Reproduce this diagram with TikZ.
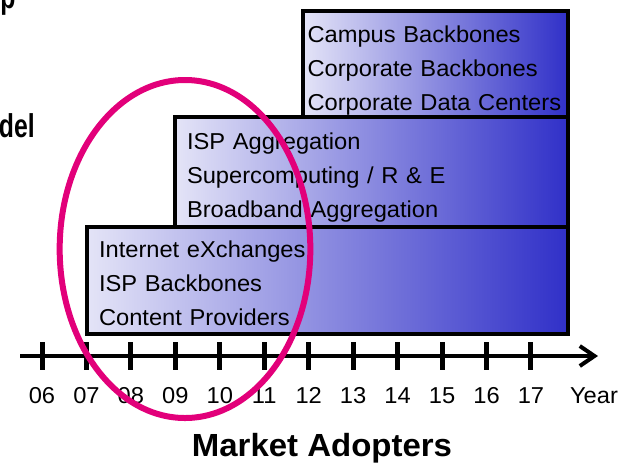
\documentclass[tikz,border=0pt]{standalone}
\usepackage{fontspec}
\setmainfont{Liberation Sans}[FakeStretch=1.03]
\newfontfamily\cutfont{Liberation Sans}[FakeStretch=0.75]
\usetikzlibrary{arrows.meta}
\definecolor{Pale}{HTML}{E4E4F7}
\definecolor{Deep}{HTML}{3030C8}
\definecolor{Ring}{HTML}{E2007A}

\begin{document}
\begin{tikzpicture}[x=0.75pt, y=-0.75pt,
  tier/.style={draw=black, line width=3.4pt, left color=Pale, right color=Deep, anchor=north west, outer sep=0pt, align=left, inner xsep=9pt, inner ysep=0pt, text height=16.5pt, text depth=51pt, font=\fontsize{17.25pt}{25.5pt}\selectfont},
  axis/.style={line width=3pt, -{Straight Barb[length=11pt,width=15pt]}},
  tick/.style={line width=3.75pt},
  yearlab/.style={anchor=base, font=\fontsize{17.25pt}{20pt}\selectfont},
  cutlab/.style={font=\cutfont\bfseries\fontsize{24.75pt}{30pt}\selectfont},
  ring/.style={draw=Ring, line width=4.5pt} ]

\useasboundingbox (0,0) rectangle (635,462);

% cut-off title fragments
\node[cutlab, anchor=base west, inner sep=0pt] (head) at (0,8) {p};
\node[cutlab, anchor=base east, inner sep=0pt] (model) at (35,137) {del};

% tiers
\node[tier, minimum width=198.75pt, minimum height=79.5pt, inner xsep=3.3pt, text width=192pt, text height=18pt] (enterprise) at (303,11) {Campus Backbones\\Corporate Backbones\\Corporate Data Centers};
\node[tier, minimum width=294.75pt, minimum height=82.5pt, text width=276.75pt] (aggregation) at (175,117) {ISP Aggregation\\Supercomputing / R \& E\\Broadband Aggregation};
\node[tier, minimum width=360.75pt, minimum height=80.25pt, text width=342.75pt, text height=15.75pt] (exchange) at (87,227) {Internet eXchanges\\ISP Backbones\\Content Providers};

% time axis
\coordinate (origin) at (20,356);
\coordinate (tip) at (598,356);
\draw[axis] (origin) -- (tip);
\foreach \yr [count=\i from 0] in {06,07,08,09,10,11,12,13,14,15,16,17} {
  \draw[tick] (42+\i*44.45,342) -- (42+\i*44.45,370);
  \node[yearlab] (y\yr) at (42+\i*44.45,403) {\yr};
}
\node[yearlab] (year) at (594,403) {Year};

\node[anchor=base, font=\bfseries\fontsize{24pt}{29pt}\selectfont] (adopters) at (322,456) {Market Adopters};

% early adopters
\draw[ring] (185,249) ellipse [x radius=94pt, y radius=126.75pt];

\end{tikzpicture}
\end{document}
